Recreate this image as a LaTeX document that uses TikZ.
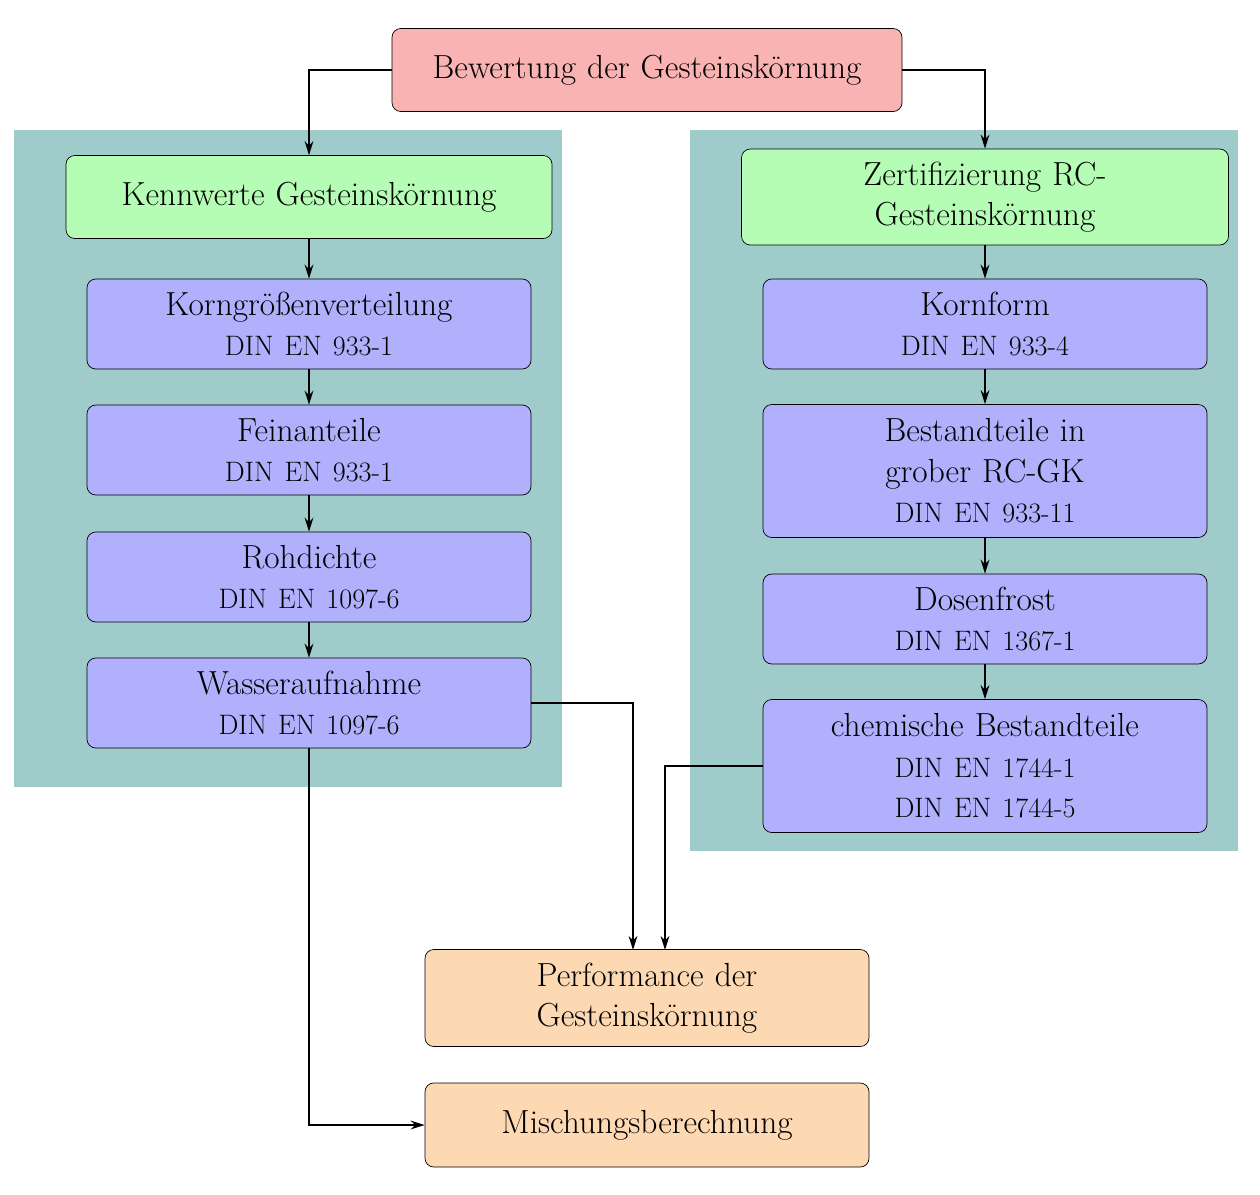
\documentclass[tikz,border=0pt]{standalone}
\usetikzlibrary{arrows.meta}
\definecolor{panel}{HTML}{9FCBCB}
\definecolor{red1}{HTML}{F9B3B3}
\definecolor{grn}{HTML}{B5FCB5}
\definecolor{blu}{HTML}{B0B0FC}
\definecolor{org}{HTML}{FCD8B3}
\begin{document}
\begin{tikzpicture}[x=0.02cm,y=-0.02cm,
  box/.style={draw,rounded corners=5pt,align=center,inner sep=0pt,font=\fontsize{19}{23}\selectfont},
  arr/.style={-{Stealth[length=8pt,width=5pt]},thick},
  din/.style={}]
\newcommand{\dn}[1]{{\fontsize{16}{24}\selectfont #1}}
\useasboundingbox (0,0) rectangle (1260,1194);
\fill[panel] (14,130) rectangle (562,787);
\fill[panel] (690,130) rectangle (1238,851);
\node[box,fill=red1,minimum width=510\pgflinewidth,text width=490*0.02cm,minimum width=510*0.02cm,minimum height=83*0.02cm] (top) at (647,70) {Bewertung der Gesteinskörnung};
\node[box,fill=grn,text width=460*0.02cm,minimum width=486*0.02cm,minimum height=83*0.02cm] (kw) at (309,197) {Kennwerte Gesteinskörnung};
\node[box,fill=grn,text width=440*0.02cm,minimum width=487*0.02cm,minimum height=96*0.02cm] (zf) at (985,197) {Zertifizierung RC-\\Gesteinskörnung};
\tikzset{bl/.style={box,fill=blu,text width=420*0.02cm,minimum width=444*0.02cm,minimum height=90*0.02cm}}
\node[bl] (l1) at (309,324) {Korngrößenverteilung\\\dn{DIN EN 933-1}};
\node[bl] (l2) at (309,450) {Feinanteile\\\dn{DIN EN 933-1}};
\node[bl] (l3) at (309,577) {Rohdichte\\\dn{DIN EN 1097-6}};
\node[bl] (l4) at (309,703) {Wasseraufnahme\\\dn{DIN EN 1097-6}};
\node[bl] (r1) at (985,324) {Kornform\\\dn{DIN EN 933-4}};
\node[bl,minimum height=133*0.02cm] (r2) at (985,471) {Bestandteile in\\grober RC-GK\\\dn{DIN EN 933-11}};
\node[bl] (r3) at (985,619) {Dosenfrost\\\dn{DIN EN 1367-1}};
\node[bl,minimum height=133*0.02cm] (r4) at (985,766) {chemische Bestandteile\\\dn{DIN EN 1744-1}\\\dn{DIN EN 1744-5}};
\node[box,fill=org,text width=420*0.02cm,minimum width=444*0.02cm,minimum height=97*0.02cm] (pf) at (647,998) {Performance der\\Gesteinskörnung};
\node[box,fill=org,text width=420*0.02cm,minimum width=444*0.02cm,minimum height=84*0.02cm] (mb) at (647,1125) {Mischungsberechnung};
\draw[arr] (top.west) -| (kw.north);
\draw[arr] (top.east) -| (zf.north);
\draw[arr] (kw) -- (l1);
\draw[arr] (l1) -- (l2);
\draw[arr] (l2) -- (l3);
\draw[arr] (l3) -- (l4);
\draw[arr] (zf) -- (r1);
\draw[arr] (r1) -- (r2);
\draw[arr] (r2) -- (r3);
\draw[arr] (r3) -- (r4);
\coordinate (pa) at (633,950);
\coordinate (pb) at (665,950);
\draw[arr] (l4.east) -| (pa);
\draw[arr] (r4.west) -| (pb);
\draw[arr] (l4.south) |- (mb.west);
\end{tikzpicture}
\end{document}
